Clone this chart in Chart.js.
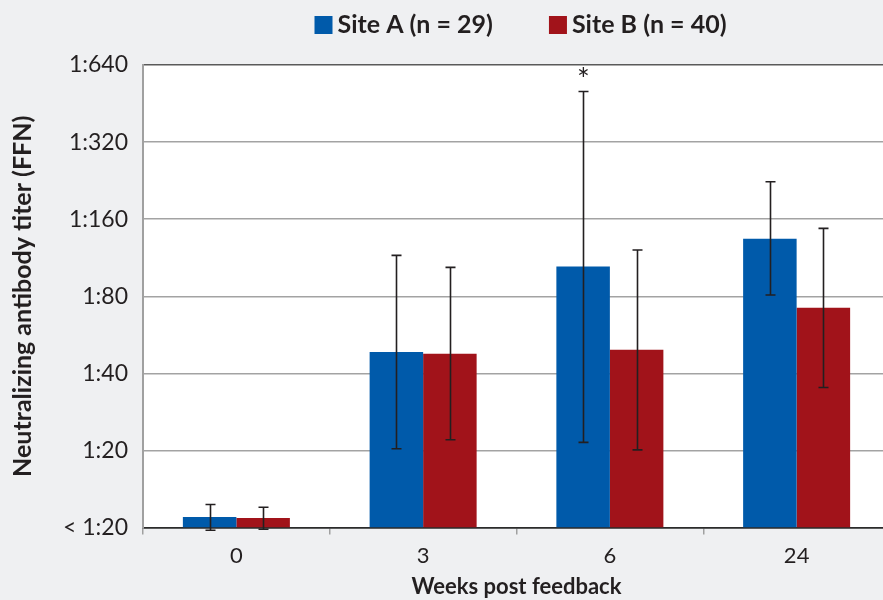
<!DOCTYPE html>
<html>
<head>
<meta charset="utf-8">
<script src="https://cdn.jsdelivr.net/npm/chart.js@4.4.1/dist/chart.umd.min.js"></script>
<style>
  html, body { margin: 0; padding: 0; background: #eff0f2; overflow: hidden; width: 883px; height: 600px; }
  #wrap { position: relative; width: 894px; height: 600px; }
</style>
</head>
<body>
<div id="wrap"><canvas id="chart"></canvas></div>
<script>
// Weeks after feedback and geometric mean titers per site
const weeks = ['0', '3', '6', '24'];

const siteA = [11.0, 48.5, 104.6, 134.2];
const siteAUpper = [12.3, 115.5, 504, 224];
const siteALower = [9.75, 20.3, 21.5, 80.9];
const siteAMarks = ['', '', '*', ''];

const siteB = [10.9, 47.7, 49.4, 72.1];
const siteBUpper = [12.0, 103.7, 121.3, 147.3];
const siteBLower = [9.84, 22.0, 20.1, 35.2];
const siteBMarks = ['', '', '', ''];

// Titer axis: each tick is one two-fold dilution
const titerTicks = [10, 20, 40, 80, 160, 320, 640];
const titerLabels = ['< 1:20', '1:20', '1:40', '1:80', '1:160', '1:320', '1:640'];

const FONT = 'Lato, "Open Sans", sans-serif';
const INK = '#231f20';

// White plot panel on the grey page
const plotPanel = {
  id: 'plotPanel',
  beforeDraw(chart) {
    const { ctx, chartArea: a } = chart;
    ctx.save();
    ctx.fillStyle = '#ffffff';
    ctx.fillRect(a.left, a.top, a.right - a.left, a.bottom - a.top);
    ctx.restore();
  }
};

// Error bars with caps, plus significance marks above them
const errorBars = {
  id: 'errorBars',
  afterDatasetsDraw(chart) {
    const { ctx } = chart;
    const y = chart.scales.y;
    ctx.save();
    chart.data.datasets.forEach((ds, di) => {
      const meta = chart.getDatasetMeta(di);
      meta.data.forEach((bar, i) => {
        const yHi = y.getPixelForValue(ds.upper[i]);
        const yLo = y.getPixelForValue(ds.lower[i]);
        const x = Math.round(bar.x) + 0.5;
        ctx.strokeStyle = INK;
        ctx.lineWidth = 1.6;
        ctx.beginPath();
        ctx.moveTo(x, yHi); ctx.lineTo(x, yLo);
        ctx.moveTo(x - 5, yHi); ctx.lineTo(x + 5, yHi);
        ctx.moveTo(x - 5, yLo); ctx.lineTo(x + 5, yLo);
        ctx.stroke();
        const mark = ds.marks[i];
        if (mark) {
          ctx.fillStyle = INK;
          ctx.font = '30px ' + FONT;
          ctx.textAlign = 'center';
          ctx.textBaseline = 'alphabetic';
          ctx.fillText(mark, x, yHi - 2);
        }
      });
    });
    ctx.restore();
  }
};

// Legend row above the plot, centred on the plot area
const topLegend = {
  id: 'topLegend',
  afterDraw(chart) {
    const { ctx, chartArea: a } = chart;
    const box = 18, gap = 5, between = 56, cy = 25;
    ctx.save();
    ctx.font = 'bold 25px ' + FONT;
    const items = chart.data.datasets.map(ds => ({
      text: ds.label, color: ds.backgroundColor, w: ctx.measureText(ds.label).width
    }));
    const total = items.reduce((s, it) => s + box + gap + it.w, 0) + between * (items.length - 1);
    let x = (a.left + a.right) / 2 + 4 - total / 2;
    items.forEach(it => {
      ctx.fillStyle = it.color;
      ctx.fillRect(x, cy - box / 2, box, box);
      ctx.fillStyle = INK;
      ctx.textAlign = 'left';
      ctx.textBaseline = 'middle';
      ctx.fillText(it.text, x + box + gap, cy);
      x += box + gap + it.w + between;
    });
    ctx.restore();
  }
};

new Chart(document.getElementById('chart'), {
  type: 'bar',
  data: {
    labels: weeks,
    datasets: [
      { label: 'Site A (n = 29)', data: siteA, upper: siteAUpper, lower: siteALower, marks: siteAMarks,
        backgroundColor: '#005aaa' },
      { label: 'Site B (n = 40)', data: siteB, upper: siteBUpper, lower: siteBLower, marks: siteBMarks,
        backgroundColor: '#a1131a' }
    ]
  },
  options: {
    responsive: true,
    maintainAspectRatio: false,
    animation: false,
    layout: { padding: { top: 65, right: 4, bottom: 0, left: 0 } },
    datasets: { bar: { categoryPercentage: 0.573, barPercentage: 1.0, borderWidth: 0 } },
    plugins: { legend: { display: false }, tooltip: { enabled: false } },
    scales: {
      x: {
        afterFit(s) { s.height = 72.5; },
        grid: { offset: true, drawOnChartArea: false, drawTicks: true, tickLength: 7,
                color: '#a0a0a0', lineWidth: 1.5 },
        border: { display: true, color: '#2b2b2b', width: 1.5 },
        ticks: { color: INK, font: { family: FONT, size: 22 }, padding: 8 },
        title: { display: true, text: 'Weeks post feedback', color: INK,
                 font: { family: FONT, size: 22, weight: 'bold' }, padding: { top: 0, bottom: 0 } }
      },
      y: {
        type: 'logarithmic',
        min: 10,
        max: 640,
        afterFit(s) { s.width = 143; },
        afterBuildTicks(s) { s.ticks = titerTicks.map(v => ({ value: v })); },
        grid: {
          drawTicks: false, tickLength: 0, lineWidth: 1.5,
          color: c => c.tick.value === 640 ? '#5a5a5a' : (c.tick.value === 10 ? '#2b2b2b' : '#a3a3a3')
        },
        border: { display: true, color: '#a0a0a0', width: 2 },
        ticks: {
          color: INK, font: { family: FONT, size: 23 }, padding: 15,
          callback: v => titerLabels[titerTicks.indexOf(v)]
        },
        title: { display: true, text: 'Neutralizing antibody titer (FFN)', color: INK,
                 font: { family: FONT, size: 25, weight: 'bold' }, padding: { top: 8, bottom: 0 } }
      }
    }
  },
  plugins: [plotPanel, errorBars, topLegend]
});
</script>
</body>
</html>
